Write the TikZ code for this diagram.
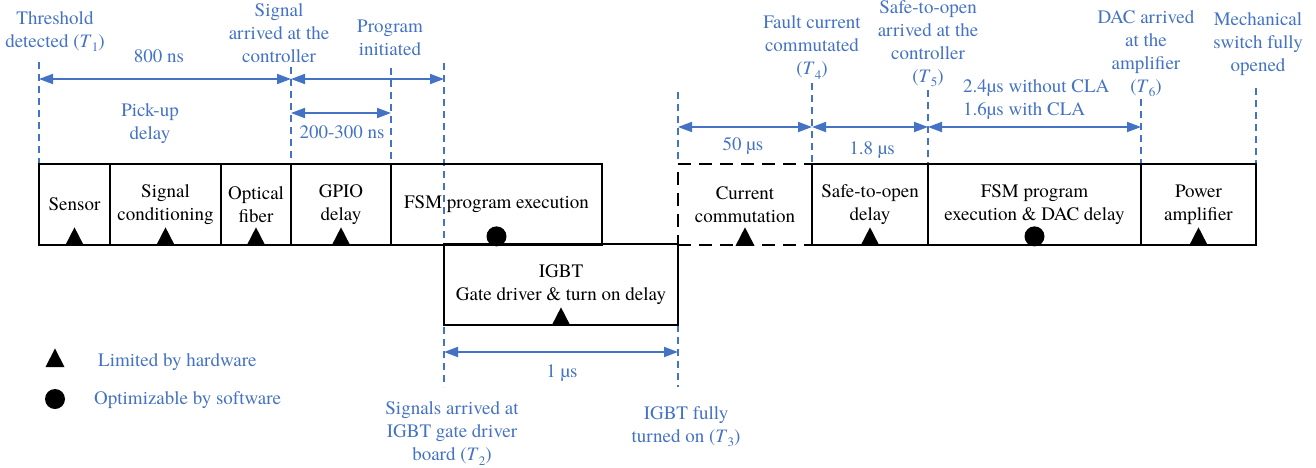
\documentclass[tikz,border=0pt]{standalone}
\usepackage{fontspec}
\setmainfont{TeX Gyre Termes}
\usetikzlibrary{arrows.meta}
\definecolor{lblue}{RGB}{68,114,196}
% time stamp such as (T_1) set in text italics
\newcommand{\Tn}[1]{(\textit{T}\kern0.2pt\raisebox{-0.22em}{\fontsize{13}{13}\selectfont #1})}

\begin{document}
\begin{tikzpicture}[x=1pt,y=-1pt,
  every node/.style={font=\fontsize{19}{23}\selectfont, inner sep=0pt},
  lbl/.style={text=lblue, align=center},
  blk/.style={draw, line width=1.7pt, align=center, minimum height=81pt},
  dashblk/.style={blk, dash pattern=on 13pt off 8pt},
  guide/.style={draw=lblue, line width=1.2pt, dash pattern=on 7pt off 5pt},
  span/.style={draw=lblue, line width=1.9pt,
    {Triangle[length=14pt,width=10pt]}-{Triangle[length=14pt,width=10pt]}},
  hwmark/.pic={\fill (-9.5,0) -- (9.5,0) -- (0,-18.5) -- cycle;},
  swmark/.pic={\fill (0,-9.5) circle[radius=10];}
]
\useasboundingbox (0,0) rectangle (1316,467);

% ---- vertical time marks ----
\coordinate (g1) at (39,62);
\coordinate (g2) at (291,67);
\coordinate (g3) at (391,68);
\coordinate (g4) at (444,63);
\coordinate (g5) at (678,92);
\coordinate (g6) at (812,83);
\coordinate (g7) at (928,90);
\coordinate (g8) at (1141,99);
\coordinate (g9) at (1256,88);
\coordinate (g4b) at (444,387);
\coordinate (g5a) at (678,325);
\coordinate (g5b) at (678,387);

\draw[guide] (g1) -- (39,164);
\draw[guide] (g2) -- (291,164);
\draw[guide] (g3) -- (391,164);
\draw[guide] (g4) -- (g4b);
\draw[guide] (g5) -- (678,164);
\draw[guide] (g5a) -- (g5b);
\draw[guide] (g6) -- (812,164);
\draw[guide] (g7) -- (928,164);
\draw[guide] (g8) -- (1141,164);
\draw[guide] (g9) -- (1256,164);

% ---- delay blocks ----
\node[dashblk, minimum width=134pt] (comm) at (745,204.5) {Current\\commutation};
\node[blk, minimum width=71pt]  (sensor)  at (74.5,204.5) {Sensor};
\node[blk, minimum width=111pt] (sigcond) at (165.5,204.5) {Signal\\conditioning};
\node[blk, minimum width=70pt]  (fiber)   at (256,204.5) {Optical\\fiber};
\node[blk, minimum width=100pt] (gpio)    at (341,204.5) {GPIO\\delay};
\node[blk, minimum width=211pt] (fsm)     at (496.5,204.5) {FSM program execution};
\node[blk, minimum width=234pt] (igbt)    at (561,284.5) {IGBT\\Gate driver \& turn on delay};
\node[blk, minimum width=116pt] (safe)    at (870,204.5) {Safe-to-open\\delay};
\node[blk, minimum width=213pt] (dac)     at (1034.5,204.5) {FSM program\\execution \& DAC delay};
\node[blk, minimum width=115pt] (amp)     at (1198.5,204.5) {Power\\amplifier};

% ---- markers ----
\pic at (sensor.south)  {hwmark};
\pic at (sigcond.south) {hwmark};
\pic at (fiber.south)   {hwmark};
\pic at (gpio.south)    {hwmark};
\pic at (fsm.south)     {swmark};
\pic at (igbt.south)    {hwmark};
\pic at (comm.south)    {hwmark};
\pic at (safe.south)    {hwmark};
\pic at (dac.south)     {swmark};
\pic at (amp.south)     {hwmark};

% ---- intervals ----
\coordinate (m1) at (39,79);
\coordinate (m2) at (291,79);
\coordinate (m3) at (444,79);
\coordinate (m4) at (291,113);
\coordinate (m5) at (391,113);
\coordinate (n1) at (678,127);
\coordinate (n2) at (812,127);
\coordinate (n3) at (928,127);
\coordinate (n4) at (1141,127);
\coordinate (b1) at (444,352);
\coordinate (b2) at (678,352);

\draw[span] (m1) -- (m2);
\draw[span] (m2) -- (m3);
\draw[span] (m4) -- (m5);
\draw[span] (n1) -- (n2);
\draw[span] (n2) -- (n3);
\draw[span] (n3) -- (n4);
\draw[span] (b1) -- (b2);

% ---- event labels ----
\node[lbl] (lt1) at (55,31.5) {Threshold\\detected \Tn{1}};
\node[lbl, anchor=base] (l800) at (159,62) {800 ns};
\node[lbl] (lpick) at (150,124) {Pick-up\\delay};
\node[lbl] (lsig) at (279,33) {Signal\\arrived at the\\controller};
\node[lbl] (lprog) at (390,37.5) {Program\\initiated};
\node[lbl, anchor=base] (l200) at (342,138) {200-300 ns};
\node[lbl] (lt4) at (812,47.5) {Fault current\\commutated\\\Tn{4}};
\node[lbl] (lt5) at (928,44) {Safe-to-open\\arrived at the\\controller\\\Tn{5}};
\node[lbl] (lt6) at (1146,54) {DAC arrived\\at the\\amplifier\\\Tn{6}};
\node[lbl] (lmech) at (1258,44.5) {Mechanical\\switch fully\\opened};
\node[lbl, anchor=base] (l50) at (743,150) {50 µs};
\node[lbl, anchor=base] (l18) at (872,154) {1.8 µs};
\node[lbl, align=left, anchor=west] (lcla) at (963,100) {2.4µs without CLA\\1.6µs with CLA};
\node[lbl, anchor=base] (l1us) at (562,377) {1 µs};
\node[lbl] (lt2) at (452,433.5) {Signals arrived at\\IGBT gate driver\\board \Tn{2}};
\node[lbl] (lt3) at (686,427) {IGBT fully\\turned on \Tn{3}};

% ---- legend ----
\pic at (55,367) {hwmark};
\node[lbl, anchor=base west] (leghw) at (98,366) {Limited by hardware};
\pic at (55,408.5) {swmark};
\node[lbl, anchor=base west] (legsw) at (94,404) {Optimizable by software};
\end{tikzpicture}
\end{document}
